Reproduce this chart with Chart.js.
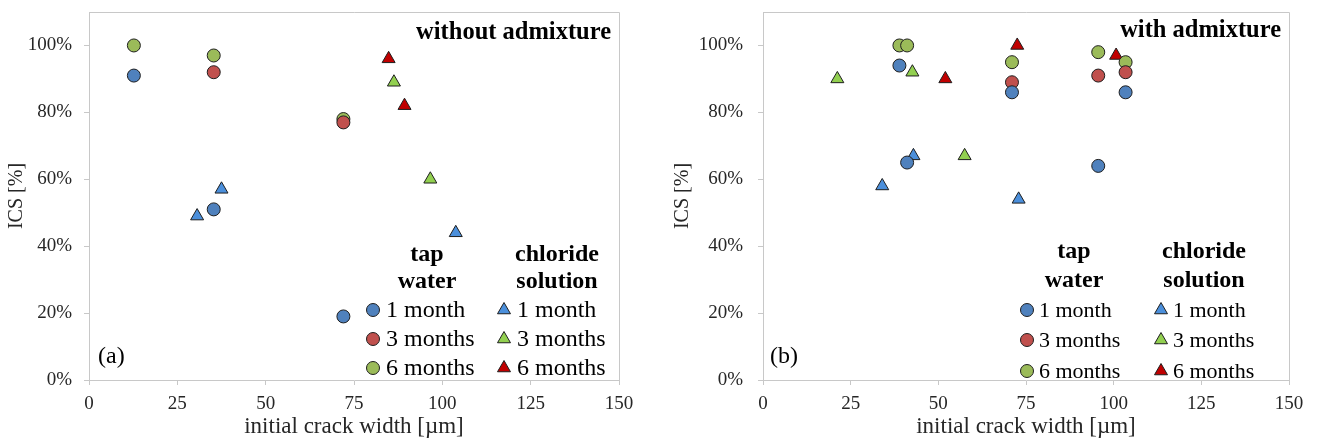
<!DOCTYPE html>
<html><head><meta charset="utf-8">
<script src="https://cdn.jsdelivr.net/npm/chart.js@4.4.1/dist/chart.umd.min.js"></script>
<style>
html,body{margin:0;padding:0;background:#fff;}
#wrap{position:relative;width:1317px;height:441px;overflow:hidden;}
canvas{position:absolute;top:0;}
#c1{left:0;} #c2{left:660px;}
</style></head><body>
<div id="wrap"><canvas id="c1" width="660" height="441"></canvas><canvas id="c2" width="657" height="441"></canvas></div>
<script>
// ---- data ----
const xTickValues = [0, 25, 50, 75, 100, 125, 150];
const yTickValues = [0, 20, 40, 60, 80, 100];
const ageLabels = ['1 month', '3 months', '6 months'];
const groupHeaders = [['tap', 'water'], ['chloride', 'solution']];
const panelTitles = ['without admixture', 'with admixture'];
const panelTags = ['(a)', '(b)'];
const xTitle = 'initial crack width [\u00B5m]';
const yTitle = 'ICS [%]';

// (a) without admixture: [crack width µm, ICS %]
const woTap1 = [[12.7, 91], [35.3, 51], [72.0, 19]];
const woTap3 = [[35.3, 92], [72.0, 77]];
const woTap6 = [[12.7, 100], [35.3, 97], [72.0, 78]];
const woChl1 = [[30.6, 49], [37.5, 57], [103.8, 44]];
const woChl3 = [[86.3, 89], [96.6, 60]];
const woChl6 = [[84.8, 96], [89.3, 82]];

// (b) with admixture
const wTap1 = [[38.9, 94], [41.1, 65], [71.0, 86], [95.6, 64], [103.4, 86]];
const wTap3 = [[71.0, 89], [95.6, 91], [103.4, 92]];
const wTap6 = [[38.9, 100], [41.1, 100], [71.0, 95], [95.6, 98], [103.4, 95]];
const wChl1 = [[34.0, 58], [42.9, 67], [72.9, 54]];
const wChl3 = [[21.2, 90], [42.6, 92], [57.5, 67]];
const wChl6 = [[52.0, 90], [72.5, 100], [100.7, 97]];

// ---- styles ----
const tapColors = ['#4F81BD', '#C0504D', '#9BBB59'];
const chlColors = ['#4B8FDB', '#92D050', '#C00000'];
const FONT = "'Liberation Serif','Times New Roman',serif";
const axisColor = '#C8C8C8';
const textColor = '#262626';

Chart.defaults.font.family = FONT;
Chart.defaults.color = textColor;

function ds(arr, label, color, style, r) {
  return {
    label: label,
    data: arr.map(p => ({x: p[0], y: p[1]})),
    backgroundColor: color,
    borderColor: '#1e1e1e',
    borderWidth: 1,
    pointStyle: style,
    pointRadius: r,
    pointHoverRadius: r,
    showLine: false
  };
}

function drawMarker(ctx, style, x, y, color) {
  ctx.save();
  ctx.fillStyle = color; ctx.strokeStyle = '#1e1e1e'; ctx.lineWidth = 1;
  ctx.beginPath();
  if (style === 'circle') {
    ctx.arc(x, y, 6.5, 0, Math.PI * 2);
  } else {
    const r = 7.5;
    let a = 0;
    ctx.moveTo(x + Math.sin(a) * r, y - Math.cos(a) * r);
    a += 2 * Math.PI / 3;
    ctx.lineTo(x + Math.sin(a) * r, y - Math.cos(a) * r);
    a += 2 * Math.PI / 3;
    ctx.lineTo(x + Math.sin(a) * r, y - Math.cos(a) * r);
    ctx.closePath();
  }
  ctx.fill(); ctx.stroke();
  ctx.restore();
}

function makeChart(id, sets, L) {
  const deco = {
    id: 'deco' + id,
    beforeDatasetsDraw(chart) {
      const {ctx, chartArea: a} = chart;
      ctx.save();
      ctx.strokeStyle = axisColor; ctx.lineWidth = 1;
      ctx.beginPath();
      ctx.moveTo(a.left, Math.round(a.top) + 0.5);
      ctx.lineTo(Math.round(a.right) + 0.5, Math.round(a.top) + 0.5);
      ctx.lineTo(Math.round(a.right) + 0.5, a.bottom);
      ctx.stroke();
      ctx.restore();
    },
    afterDraw(chart) {
      const ctx = chart.ctx;
      ctx.save();
      ctx.fillStyle = '#000';
      ctx.textBaseline = 'middle';
      // panel title
      ctx.font = 'bold 24.5px ' + FONT;
      ctx.textAlign = 'right';
      ctx.fillText(L.title, L.titleX, L.titleY);
      // tag
      ctx.font = '24px ' + FONT;
      ctx.textAlign = 'left';
      ctx.fillText(L.tag, L.tagX, L.tagY);
      // legend headers
      ctx.font = 'bold 24px ' + FONT;
      ctx.textAlign = 'center';
      groupHeaders[0].forEach((t, i) => ctx.fillText(t, L.h1X, L.hY[i]));
      groupHeaders[1].forEach((t, i) => ctx.fillText(t, L.h2X, L.hY[i]));
      // legend items
      ctx.font = L.itemSize + 'px ' + FONT;
      ctx.textAlign = 'left';
      ageLabels.forEach((t, i) => {
        const y = L.rowY[i];
        drawMarker(ctx, 'circle', L.m1X, y, tapColors[i]);
        ctx.fillStyle = '#000';
        ctx.fillText(t, L.t1X, y + 1);
        drawMarker(ctx, 'triangle', L.m2X, y, chlColors[i]);
        ctx.fillStyle = '#000';
        ctx.fillText(t, L.t2X, y + 1);
      });
      ctx.restore();
    }
  };

  return new Chart(document.getElementById(id), {
    type: 'scatter',
    data: {
      datasets: [
        ds(sets[0], 'tap water ' + ageLabels[0], tapColors[0], 'circle', 6.5),
        ds(sets[1], 'tap water ' + ageLabels[1], tapColors[1], 'circle', 6.5),
        ds(sets[2], 'tap water ' + ageLabels[2], tapColors[2], 'circle', 6.5),
        ds(sets[3], 'chloride solution ' + ageLabels[0], chlColors[0], 'triangle', 7.5),
        ds(sets[4], 'chloride solution ' + ageLabels[1], chlColors[1], 'triangle', 7.5),
        ds(sets[5], 'chloride solution ' + ageLabels[2], chlColors[2], 'triangle', 7.5)
      ]
    },
    options: {
      responsive: false,
      animation: false,
      events: [],
      layout: {padding: {left: 0, top: L.top, right: L.padRight, bottom: 0}},
      plugins: {legend: {display: false}, tooltip: {enabled: false}},
      scales: {
        x: {
          type: 'linear', position: 'bottom', min: 0, max: 150,
          afterBuildTicks: s => { s.ticks = xTickValues.map(v => ({value: v})); },
          afterFit: s => { s.height = 441 - L.bottom; },
          grid: {display: true, drawOnChartArea: false, drawTicks: true, tickLength: 5, color: axisColor},
          border: {display: true, color: axisColor},
          ticks: {font: {size: 19}, color: textColor, padding: 8, maxRotation: 0, autoSkip: false},
          title: {display: true, text: xTitle, font: {size: 23, lineHeight: 1.2}, color: textColor, padding: {top: 0, bottom: 0}}
        },
        y: {
          type: 'linear', position: 'left', min: 0, max: 110,
          afterBuildTicks: s => { s.ticks = yTickValues.map(v => ({value: v})); },
          afterFit: s => { s.width = L.left; s.paddingTop = 0; s.paddingBottom = 0; },
          grid: {display: true, drawOnChartArea: false, drawTicks: true, tickLength: 5, color: axisColor},
          border: {display: true, color: axisColor},
          ticks: {font: {size: 19}, color: textColor, padding: L.yTickPad, autoSkip: false, callback: v => v + '%'},
          title: {display: true, text: yTitle, font: {size: 20, lineHeight: 1.2}, color: textColor, padding: {top: L.yTitlePad, bottom: 0}}
        }
      }
    },
    plugins: [deco]
  });
}

makeChart('c1', [woTap1, woTap3, woTap6, woChl1, woChl3, woChl6], {
  left: 89, top: 12, bottom: 380, padRight: 660 - 619,
  yTickPad: 12, yTitlePad: 5,
  title: panelTitles[0], titleX: 611, titleY: 33,
  tag: panelTags[0], tagX: 98, tagY: 357,
  h1X: 427, h2X: 557, hY: [255, 282], itemSize: 24,
  m1X: 373, t1X: 386, m2X: 504, t2X: 517, rowY: [310, 339, 368]
});

makeChart('c2', [wTap1, wTap3, wTap6, wChl1, wChl3, wChl6], {
  left: 103, top: 12, bottom: 380, padRight: 657 - 629,
  yTickPad: 15, yTitlePad: 11,
  title: panelTitles[1], titleX: 621, titleY: 31,
  tag: panelTags[1], tagX: 110, tagY: 357,
  h1X: 414, h2X: 544, hY: [252, 281], itemSize: 22,
  m1X: 367, t1X: 379, m2X: 501, t2X: 513, rowY: [310, 340, 371]
});
</script>
</body></html>
